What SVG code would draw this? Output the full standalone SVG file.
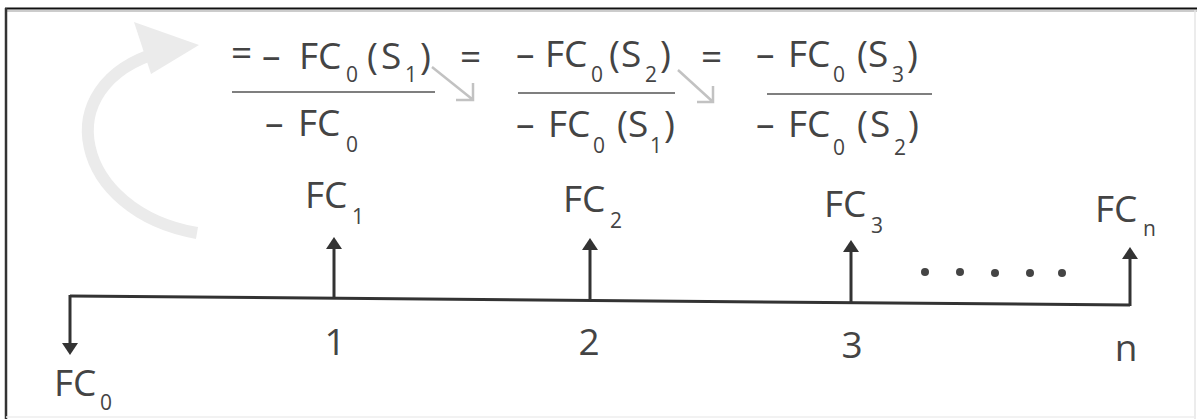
<svg xmlns="http://www.w3.org/2000/svg" width="1197" height="419" viewBox="0 0 1197 419">
<style>
.t{font-family:"Open Sans","Noto Sans","Liberation Sans",sans-serif;font-size:37px;fill:#444}
.s{font-size:21px}
.m{text-anchor:middle}
.bar{stroke:#555;stroke-width:1.6}
.ax{stroke:#333;stroke-width:3;fill:none}
.ga{stroke:#c2c2c2;stroke-width:2.5;fill:none}
</style>
<defs>
<marker id="ah" viewBox="0 0 12 16" refX="0" refY="8" markerWidth="12" markerHeight="16" markerUnits="userSpaceOnUse" orient="auto">
<path d="M0,0 L12,8 L0,16 z" fill="#333"/>
</marker>
</defs>
<rect x="0" y="0" width="1197" height="419" fill="#fff"/>
<g id="frame">
<line x1="5" y1="8.5" x2="1197" y2="8.5" stroke="#111" stroke-width="2"/>
<line x1="5" y1="11" x2="1197" y2="11" stroke="#ccc" stroke-width="2"/>
<line x1="6" y1="8" x2="6" y2="419" stroke="#333" stroke-width="2.5"/>
<line x1="1195" y1="10" x2="1195" y2="419" stroke="#e6e6e6" stroke-width="1.5"/>
<line x1="6" y1="417" x2="1195" y2="417" stroke="#eee" stroke-width="1.5"/>
</g>
<g id="cycle-arrow">
<path d="M197,233 C75,212 45,85 160,52" stroke="#ebebeb" stroke-width="12" fill="none"/>
<polygon points="134,22 199,45 151,74" fill="#ebebeb"/>
</g>
<g id="fraction1" class="t">
<text x="231" y="66">=</text>
<text x="262" y="69">–</text>
<text x="299" y="69">FC</text>
<text x="346" y="82" class="s">0</text>
<text x="367" y="69">(</text>
<text x="381" y="69">S</text>
<text x="405" y="82" class="s">1</text>
<text x="420" y="69">)</text>
<line class="bar" x1="232" y1="92" x2="435" y2="92"/>
<text x="265" y="136">–</text>
<text x="298" y="136">FC</text>
<text x="346" y="152" class="s">0</text>
</g>
<g id="eq2" class="t"><text x="460" y="70">=</text></g>
<g id="fraction2" class="t">
<text x="516" y="67">–</text>
<text x="545" y="67">FC</text>
<text x="591" y="82" class="s">0</text>
<text x="609" y="67">(</text>
<text x="621" y="67">S</text>
<text x="645" y="82" class="s">2</text>
<text x="660" y="67">)</text>
<line class="bar" x1="518" y1="93" x2="675" y2="93"/>
<text x="516" y="137">–</text>
<text x="548" y="137">FC</text>
<text x="593" y="153" class="s">0</text>
<text x="617" y="137">(</text>
<text x="628" y="137">S</text>
<text x="650" y="153" class="s">1</text>
<text x="664" y="137">)</text>
</g>
<g id="eq3" class="t"><text x="701" y="70">=</text></g>
<g id="fraction3" class="t">
<text x="756" y="67">–</text>
<text x="788" y="67">FC</text>
<text x="833" y="82" class="s">0</text>
<text x="857" y="67">(</text>
<text x="868" y="67">S</text>
<text x="892" y="82" class="s">3</text>
<text x="907" y="67">)</text>
<line class="bar" x1="767" y1="94" x2="932" y2="94"/>
<text x="756" y="137">–</text>
<text x="788" y="137">FC</text>
<text x="833" y="155" class="s">0</text>
<text x="857" y="137">(</text>
<text x="870" y="137">S</text>
<text x="894" y="155" class="s">2</text>
<text x="908" y="137">)</text>
</g>
<g id="connectors">
<path class="ga" d="M432,67 L472,99 M456,100 L473,100 L473,83"/>
<path class="ga" d="M678,70 L712,101 M697,102 L713,102 L713,86"/>
<path class="ax" d="M70,296 L1130,305"/>
<line class="ax" x1="70" y1="295" x2="70" y2="343" marker-end="url(#ah)"/>
<line class="ax" x1="334" y1="299" x2="334" y2="249" marker-end="url(#ah)"/>
<line class="ax" x1="590" y1="301" x2="590" y2="250" marker-end="url(#ah)"/>
<line class="ax" x1="851" y1="303" x2="851" y2="252" marker-end="url(#ah)"/>
<line class="ax" x1="1130" y1="306" x2="1130" y2="259" marker-end="url(#ah)"/>
</g>
<g id="t0" class="t">
<text x="54" y="396">FC</text>
<text x="100" y="410" class="s">0</text>
</g>
<g id="t1" class="t">
<text x="305" y="208">FC</text>
<text x="352" y="224" class="s">1</text>
<text x="335" y="355" class="m">1</text>
</g>
<g id="t2" class="t">
<text x="563" y="212">FC</text>
<text x="610" y="228" class="s">2</text>
<text x="589" y="355" class="m">2</text>
</g>
<g id="t3" class="t">
<text x="824" y="217">FC</text>
<text x="871" y="233" class="s">3</text>
<text x="852" y="358" class="m">3</text>
</g>
<g id="dots" fill="#444">
<circle cx="925" cy="272" r="4"/>
<circle cx="960" cy="272" r="4"/>
<circle cx="995" cy="273" r="4"/>
<circle cx="1030" cy="273" r="4"/>
<circle cx="1062" cy="273" r="4"/>
</g>
<g id="tn" class="t">
<text x="1095" y="222">FC</text>
<text x="1143" y="236" class="s">n</text>
<text x="1126" y="361" class="m">n</text>
</g>
</svg>
